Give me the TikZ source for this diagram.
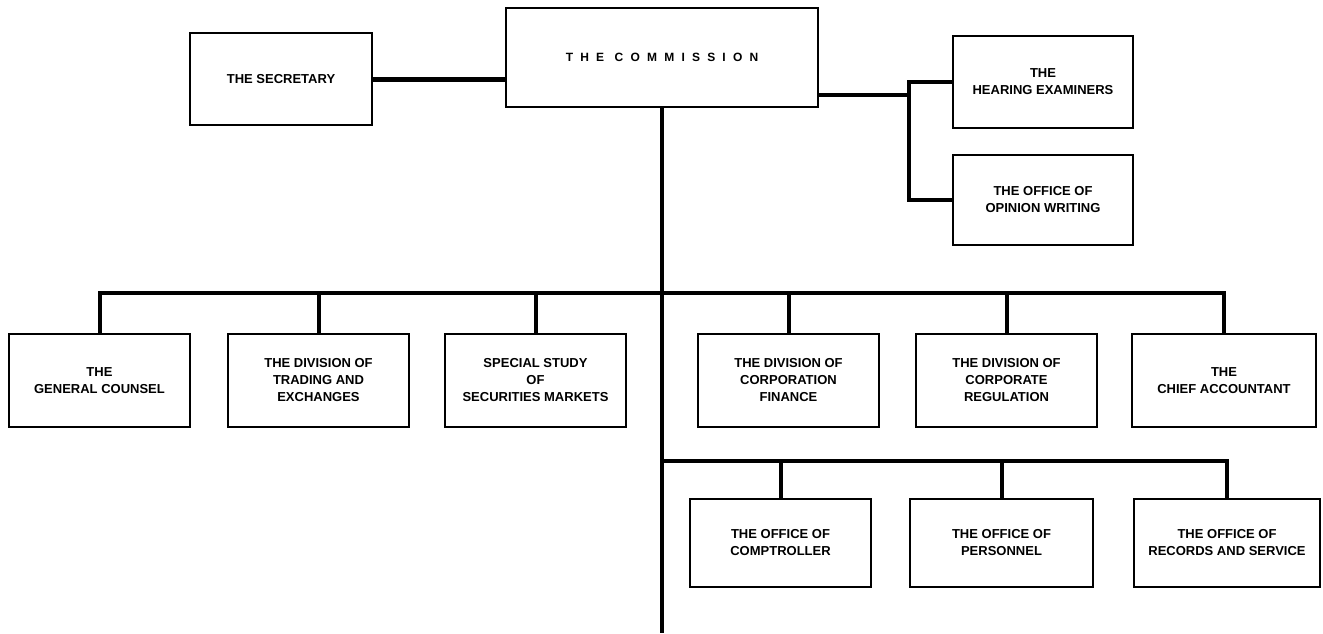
\documentclass[tikz,border=0pt]{standalone}
\usepackage{fontspec}
\setmainfont{Liberation Sans}
\newfontfamily\spacedfont[LetterSpace=60]{Liberation Sans}

\tikzset{
	office/.style={draw, line width=1.8pt, minimum width=181pt, minimum height=92pt, inner sep=2pt, align=center, font=\bfseries\fontsize{13}{17}\selectfont},
	wire/.style={line width=4pt},
}

\begin{document}
\begin{tikzpicture}[x=1pt, y=-1pt]
	\useasboundingbox (0, 0) rectangle (1323, 633);
	% Top level:
	\node[office, minimum width=312pt, minimum height=99pt, font=\spacedfont\bfseries\fontsize{12}{14}\selectfont] (comm) at (662, 57.5){THE COMMISSION};
	\node[office, minimum width=182pt] (sec) at (281, 79){THE SECRETARY};
	\node[office, minimum width=180pt] (hear) at (1043, 82){THE\\HEARING EXAMINERS};
	\node[office, minimum width=180pt, minimum height=90pt] (opin) at (1043, 200){THE OFFICE OF\\OPINION WRITING};
	% First row:
	\node[office, minimum height=93pt] (gc) at (99.5, 380.5){THE\\GENERAL COUNSEL};
	\node[office, minimum height=93pt] (dte) at (318.5, 380.5){THE DIVISION OF\\TRADING AND\\EXCHANGES};
	\node[office, minimum height=93pt] (sss) at (535.5, 380.5){SPECIAL STUDY\\OF\\SECURITIES MARKETS};
	\node[office, minimum height=93pt] (dcf) at (788.5, 380.5){THE DIVISION OF\\CORPORATION\\FINANCE};
	\node[office, minimum height=93pt] (dcr) at (1006.5, 380.5){THE DIVISION OF\\CORPORATE\\REGULATION};
	\node[office, minimum height=93pt, minimum width=184pt] (ca) at (1224, 380.5){THE\\CHIEF ACCOUNTANT};
	% Second row:
	\node[office, minimum height=88pt] (comp) at (780.5, 543){THE OFFICE OF\\COMPTROLLER};
	\node[office, minimum height=88pt, minimum width=183pt] (pers) at (1001.5, 543){THE OFFICE OF\\PERSONNEL};
	\node[office, minimum height=88pt, minimum width=186pt] (rec) at (1227, 543){THE OFFICE OF\\RECORDS AND SERVICE};
	% Wires:
	\coordinate (foot) at (662, 633);
	\coordinate (hub) at (909, 95);
	\coordinate (bus1) at (662, 293);
	\coordinate (bus2) at (662, 461);
	\draw[wire, line width=5pt] (sec.east) -- (sec.east -| comm.west);
	\draw[wire] (comm.south) -- (foot);
	\draw[wire] (comm.east |- hub) -- (hub) |- (hear.west);
	\draw[wire] (hub) |- (opin.west);
	\draw[wire] (gc.north) -- (gc.north |- bus1) -- (ca.north |- bus1) -- (ca.north);
	\foreach \n in {dte, sss, dcf, dcr}
		\draw[wire] (\n.north) -- (\n.north |- bus1);
	\draw[wire] (bus2) -- (rec.north |- bus2) -- (rec.north);
	\foreach \n in {comp, pers}
		\draw[wire] (\n.north) -- (\n.north |- bus2);
\end{tikzpicture}
\end{document}
